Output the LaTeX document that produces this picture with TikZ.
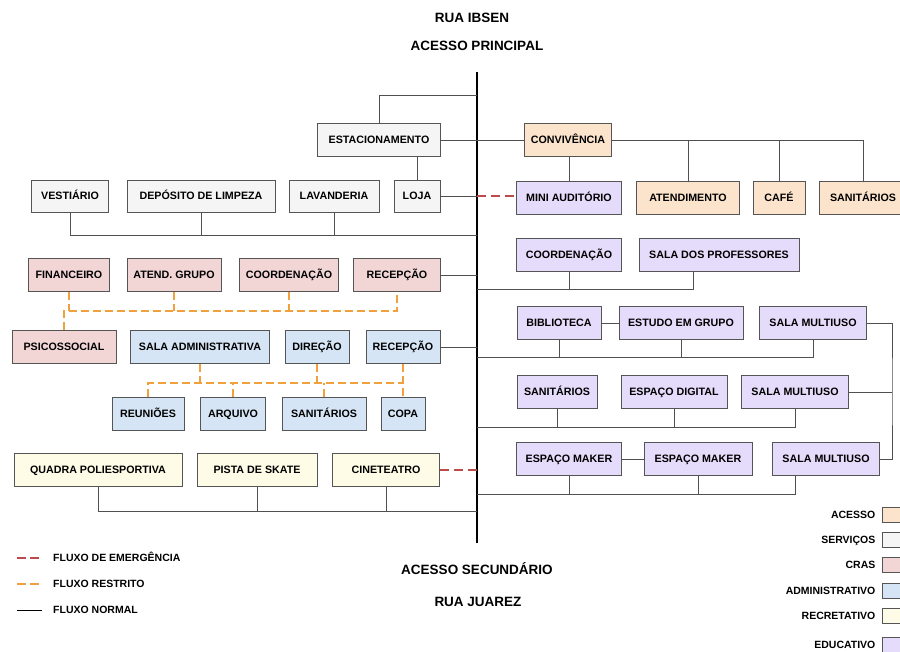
\documentclass[tikz,border=0pt]{standalone}
\usepackage{fontspec}
\setmainfont{Liberation Sans}
\usetikzlibrary{positioning}
\definecolor{acessofill}{RGB}{252,228,204}
\definecolor{servicofill}{RGB}{245,245,245}
\definecolor{crasfill}{RGB}{242,214,214}
\definecolor{admfill}{RGB}{214,229,245}
\definecolor{recrefill}{RGB}{254,252,230}
\definecolor{edufill}{RGB}{229,219,250}
\definecolor{boxline}{RGB}{85,85,85}
\definecolor{flowline}{RGB}{80,80,80}
\definecolor{restritoline}{RGB}{240,160,60}
\definecolor{emergline}{RGB}{190,75,75}

\begin{document}
\begin{tikzpicture}[x=1pt,y=-1pt,
    box/.style={draw=boxline, line width=0.8pt, inner sep=0pt, minimum height=33pt,
      text height=7.7pt, text depth=0pt, font=\fontsize{10.7}{12}\selectfont\bfseries},
    acesso/.style={box, fill=acessofill},
    servico/.style={box, fill=servicofill},
    cras/.style={box, fill=crasfill},
    adm/.style={box, fill=admfill},
    recre/.style={box, fill=recrefill},
    edu/.style={box, fill=edufill},
    spine/.style={draw=black, line width=1.1pt},
    flow/.style={draw=flowline, line width=0.9pt},
    restrito/.style={draw=restritoline, line width=1.3pt, dash pattern=on 8pt off 4pt},
    emerg/.style={draw=emergline, line width=1.2pt, dash pattern=on 9pt off 5pt},
    title/.style={text height=9.7pt, text depth=0pt, font=\fontsize{13.5}{16}\selectfont\bfseries},
    legtext/.style={inner sep=0pt, text height=7.5pt, text depth=0pt, font=\fontsize{10.5}{12}\selectfont\bfseries},
    legbox/.style={draw=boxline, line width=0.8pt, minimum width=22pt, minimum height=15pt, inner sep=0pt}]

  \fill[white] (0,0) rectangle (900,651);
  \useasboundingbox (0,0) rectangle (900,651);

  % titles
  \node[title] (ibsen) at (472,18) {RUA IBSEN};
  \node[title] (principal) at (477,46) {ACESSO PRINCIPAL};
  \node[title] (secundario) at (477,570) {ACESSO SECUNDÁRIO};
  \node[title] (juarez) at (478,602) {RUA JUAREZ};

  % main axis
  \coordinate (top) at (477,72);
  \coordinate (bot) at (477,543);
  \draw[spine] (top) -- (bot);
  \coordinate (jest) at (477,95);
  \coordinate (jserv) at (477,235);
  \coordinate (jprof) at (477,289);
  \coordinate (jbib) at (477,357);
  \coordinate (jsan) at (477,427);
  \coordinate (jmaker) at (477,494);
  \coordinate (jrecre) at (477,511);

  % servicos
  \node[servico, minimum width=123pt] (est) at (379,140) {ESTACIONAMENTO};
  \node[servico, minimum width=77pt, minimum height=32pt] (vest) at (70,196) {VESTIÁRIO};
  \node[servico, minimum width=148pt, minimum height=32pt] (dep) at (201,196) {DEPÓSITO DE LIMPEZA};
  \node[servico, minimum width=90pt, minimum height=32pt] (lav) at (334,196) {LAVANDERIA};
  \node[servico, minimum width=46pt, minimum height=32pt] (loja) at (417,196) {LOJA};

  % acesso
  \node[acesso, minimum width=87pt] (conv) at (568,140) {CONVIVÊNCIA};
  \node[edu, minimum width=105pt] (mini) at (569,198) {MINI AUDITÓRIO};
  \node[acesso, minimum width=103pt] (aten) at (688,198) {ATENDIMENTO};
  \node[acesso, minimum width=52pt] (cafe) at (779,198) {CAFÉ};
  \node[acesso, minimum width=88pt] (sanacc) at (863,198) {SANITÁRIOS};

  % educativo
  \node[edu, minimum width=105pt] (coorde) at (569,255) {COORDENAÇÃO};
  \node[edu, minimum width=160pt] (prof) at (719,255) {SALA DOS PROFESSORES};
  \node[edu, minimum width=84pt] (bib) at (559,323) {BIBLIOTECA};
  \node[edu, minimum width=124pt] (estudo) at (681,323) {ESTUDO EM GRUPO};
  \node[edu, minimum width=107pt] (multi1) at (813,323) {SALA MULTIUSO};
  \node[edu, minimum width=80pt] (sanedu) at (557,392) {SANITÁRIOS};
  \node[edu, minimum width=106pt] (digital) at (674,392) {ESPAÇO DIGITAL};
  \node[edu, minimum width=107pt] (multi2) at (795,392) {SALA MULTIUSO};
  \node[edu, minimum width=105pt] (maker1) at (569,459) {ESPAÇO MAKER};
  \node[edu, minimum width=108pt] (maker2) at (698,459) {ESPAÇO MAKER};
  \node[edu, minimum width=107pt] (multi3) at (826,459) {SALA MULTIUSO};

  % cras
  \node[cras, minimum width=81pt] (fin) at (69,275) {FINANCEIRO};
  \node[cras, minimum width=94pt] (atend) at (174,275) {ATEND. GRUPO};
  \node[cras, minimum width=99pt] (coordc) at (289,275) {COORDENAÇÃO};
  \node[cras, minimum width=87pt] (recc) at (397,275) {RECEPÇÃO};
  \node[cras, minimum width=104pt] (psico) at (64,347) {PSICOSSOCIAL};

  % administrativo
  \node[adm, minimum width=139pt] (sala) at (200,347) {SALA ADMINISTRATIVA};
  \node[adm, minimum width=64pt] (dir) at (317,347) {DIREÇÃO};
  \node[adm, minimum width=74pt] (reca) at (403,347) {RECEPÇÃO};
  \node[adm, minimum width=72pt] (reun) at (148,414) {REUNIÕES};
  \node[adm, minimum width=65pt] (arq) at (233,414) {ARQUIVO};
  \node[adm, minimum width=84pt] (sanadm) at (324,414) {SANITÁRIOS};
  \node[adm, minimum width=44pt] (copa) at (403,414) {COPA};

  % recreativo
  \node[recre, minimum width=168pt] (quadra) at (98,470) {QUADRA POLIESPORTIVA};
  \node[recre, minimum width=120pt] (pista) at (257,470) {PISTA DE SKATE};
  \node[recre, minimum width=107pt] (cine) at (386,470) {CINETEATRO};

  % fluxo normal
  \draw[flow] (est.north) |- (jest);
  \draw[flow] (est.east) -- (conv.west);
  \draw[flow] (est.south -| loja.north) -- (loja.north);
  \draw[flow] (loja.east) -- (loja.east -| top);
  \draw[flow] (vest.south) |- (jserv);
  \draw[flow] (dep.south) -- (dep.south |- jserv);
  \draw[flow] (lav.south) -- (lav.south |- jserv);
  \draw[flow] (conv.east) -| (sanacc.north);
  \draw[flow] (aten.north) -- (aten.north |- conv.east);
  \draw[flow] (cafe.north) -- (cafe.north |- conv.east);
  \draw[flow] (mini.north |- conv.south) -- (mini.north);
  \draw[flow] (jprof) -| ([xshift=-26pt]prof.south);
  \draw[flow] (coorde.south) -- (coorde.south |- jprof);
  \draw[flow] (bib.east) -- (estudo.west);
  \draw[flow] (jbib) -| (multi1.south);
  \draw[flow] (bib.south) -- (bib.south |- jbib);
  \draw[flow] (estudo.south) -- (estudo.south |- jbib);
  \draw[flow] (jsan) -| (multi2.south);
  \draw[flow] (sanedu.south) -- (sanedu.south |- jsan);
  \draw[flow] (digital.south) -- (digital.south |- jsan);
  \draw[flow] (maker1.east) -- (maker2.west);
  \draw[flow] (jmaker) -| ([xshift=-31pt]multi3.south);
  \draw[flow] (maker1.south) -- (maker1.south |- jmaker);
  \draw[flow] (maker2.south) -- (maker2.south |- jmaker);
  \coordinate (rloop) at (892,392);
  \draw[flow] (multi1.east) -| (rloop) |- (multi3.east);
  \draw[flow] (multi2.east) -- (rloop);
  \draw[flow] (recc.east) -- (recc.east -| top);
  \draw[flow] (reca.east) -- (reca.east -| top);
  \draw[flow] (quadra.south) |- (jrecre);
  \draw[flow] (pista.south) -- (pista.south |- jrecre);
  \draw[flow] (cine.south) -- (cine.south |- jrecre);

  % fluxo restrito
  \coordinate (crasbus) at (397,311);
  \draw[restrito] (psico.north) |- (crasbus) -- (recc.south);
  \draw[restrito] (fin.south) -- (fin.south |- crasbus);
  \draw[restrito] (atend.south) -- (atend.south |- crasbus);
  \draw[restrito] (coordc.south) -- (coordc.south |- crasbus);
  \coordinate (admbus) at (403,383);
  \draw[restrito] (reca.south) -- (copa.north);
  \draw[restrito] (reun.north) |- (admbus);
  \draw[restrito] (sala.south) -- (sala.south |- admbus);
  \draw[restrito] (dir.south) -- (dir.south |- admbus);
  \draw[restrito] (arq.north) -- (arq.north |- admbus);
  \draw[restrito] (sanadm.north) -- (sanadm.north |- admbus);

  % fluxo de emergencia
  \draw[emerg] (loja.east -| top) -- (mini.west |- loja.east);
  \draw[emerg] (cine.east) -- (cine.east -| top);

  % legenda de fluxos
  \coordinate (le1) at (17,558); \coordinate (le2) at (42,558);
  \coordinate (lr1) at (17,584); \coordinate (lr2) at (42,584);
  \coordinate (ln1) at (17,610); \coordinate (ln2) at (42,610);
  \draw[emerg, dash pattern=on 9pt off 4pt] (le1) -- (le2);
  \draw[restrito, dash pattern=on 9pt off 4pt] (lr1) -- (lr2);
  \draw[black, line width=0.9pt] (ln1) -- (ln2);
  \node[legtext, anchor=west] (lemerg) at (53,558) {FLUXO DE EMERGÊNCIA};
  \node[legtext, anchor=west] (lrestr) at (53,584) {FLUXO RESTRITO};
  \node[legtext, anchor=west] (lnorm) at (53,610) {FLUXO NORMAL};

  % legenda de cores
  \node[legbox, fill=acessofill] (k1) at (893,515) {};
  \node[legbox, fill=servicofill] (k2) at (893,540) {};
  \node[legbox, fill=crasfill] (k3) at (893,565) {};
  \node[legbox, fill=admfill] (k4) at (893,591) {};
  \node[legbox, fill=recrefill] (k5) at (893,616) {};
  \node[legbox, fill=edufill] (k6) at (893,645) {};
  \node[legtext, left=6pt of k1] {ACESSO};
  \node[legtext, left=6pt of k2] {SERVIÇOS};
  \node[legtext, left=6pt of k3] {CRAS};
  \node[legtext, left=6pt of k4] {ADMINISTRATIVO};
  \node[legtext, left=6pt of k5] {RECRETATIVO};
  \node[legtext, left=6pt of k6] {EDUCATIVO};
\end{tikzpicture}
\end{document}
